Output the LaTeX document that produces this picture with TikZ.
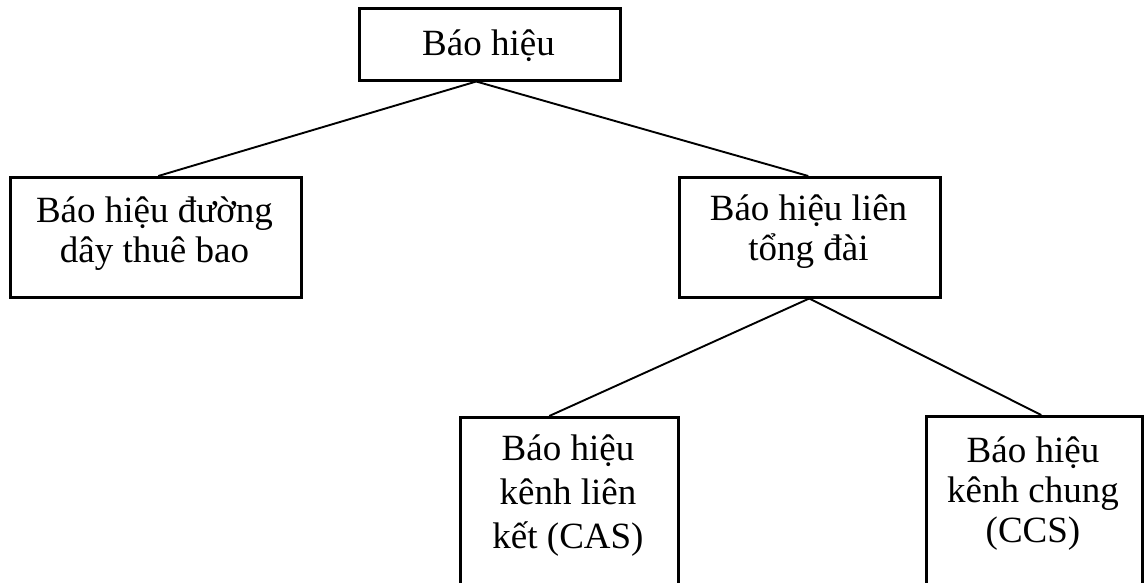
\documentclass[tikz,border=0pt]{standalone}
\usepackage{fontspec}
\setmainfont{Liberation Serif}
\usetikzlibrary{calc}
\begin{document}
\begin{tikzpicture}[x=1pt,y=-1pt,
  box/.style={draw, line width=2.5pt, rectangle, inner sep=0pt, anchor=north west},
  label/.style={align=center, inner sep=0pt, anchor=base, font=\fontsize{37}{40}\selectfont},
  link/.style={line width=1.9pt}]
\useasboundingbox (0,0) rectangle (1144,582);
\clip (0,0) rectangle (1144,582);

% boxes
\node[box, minimum width=261pt, minimum height=72pt]  (root)  at (358,7)   {};
\node[box, minimum width=291pt, minimum height=120pt] (subs)  at (9,176)   {};
\node[box, minimum width=261pt, minimum height=120pt] (inter) at (678,176) {};
\node[box, minimum width=218pt, minimum height=200pt] (cas)   at (459,416) {};
\node[box, minimum width=216pt, minimum height=200pt] (ccs)   at (925,415) {};

% texts (placed by the baseline of their last line)
\node[label] (roott)  at (488.5,55) {Báo hiệu};
\node[label] (subst)  at (154.5,262) {Báo hiệu đường\\dây thuê bao};
\node[label] (intert) at (808.5,260) {Báo hiệu liên\\tổng đài};
\node[label, font=\fontsize{37}{44}\selectfont] (cast) at (568,548) {Báo hiệu\\kênh liên\\kết (CAS)};
\node[label] (ccst)   at (1033,542) {Báo hiệu\\kênh chung\\(CCS)};

% connectors
\draw[link] ($(root.south)+(-13.5,0)$) -- ($(subs.north)+(2.5,0)$);
\draw[link] ($(root.south)+(-13.5,0)$) -- ($(inter.north)+(-1.5,0)$);
\draw[link] ($(inter.south)+(-0.5,0)$) -- ($(cas.north)+(-20,0)$);
\draw[link] ($(inter.south)+(-0.5,0)$) -- ($(ccs.north)+(7,0)$);
\end{tikzpicture}
\end{document}
